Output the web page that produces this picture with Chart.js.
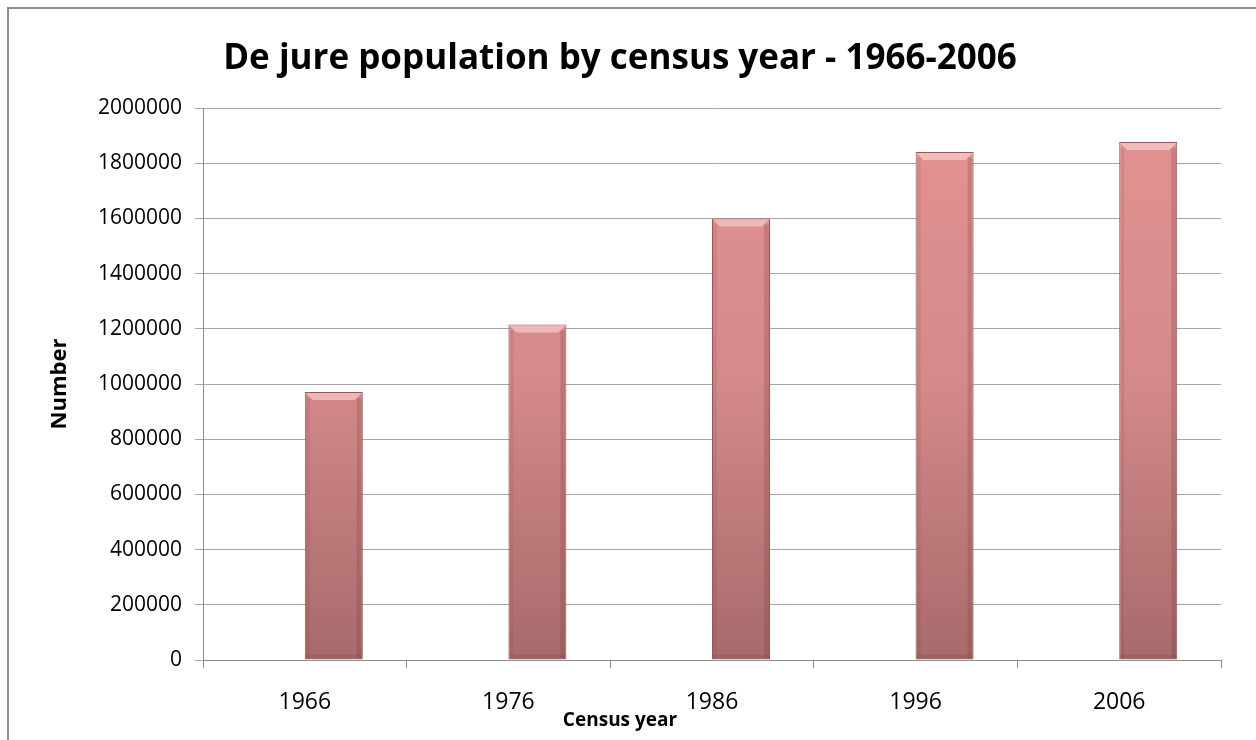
<!DOCTYPE html>
<html>
<head>
<meta charset="utf-8">
<script src="https://cdn.jsdelivr.net/npm/chart.js@4"></script>
<style>
  html, body { margin: 0; padding: 0; background: #fff; overflow: hidden; }
  #frame { position: absolute; left: 7px; top: 7px; width: 1300px; height: 800px; border: 2px solid #8c8c8c; box-sizing: border-box; }
  #wrap { position: absolute; left: 0; top: 0; width: 1256px; height: 740px; }
</style>
</head>
<body>
<div id="frame"></div>
<div id="wrap"><canvas id="grafico"></canvas></div>
<script>
const anos = ['1966', '1976', '1986', '1996', '2006'];
const populacao = [971000, 1216000, 1600000, 1841000, 1877000];
const vazio = [null, null, null, null, null];
const yTicks = [0, 200000, 400000, 600000, 800000, 1000000, 1200000, 1400000, 1600000, 1800000, 2000000];

document.addEventListener('DOMContentLoaded', () => {
    const ctx = document.getElementById('grafico').getContext('2d');

    const gradiente = (context) => {
        const area = context.chart.chartArea;
        if (!area) return '#d08080';
        const g = context.chart.ctx.createLinearGradient(0, area.top, 0, area.bottom);
        g.addColorStop(0, '#e49391');
        g.addColorStop(0.5, '#d4898a');
        g.addColorStop(1, '#a86a6b');
        return g;
    };

    // brilho no topo das barras (efeito bisel)
    const bisel = {
        id: 'bisel',
        afterDatasetsDraw(chart) {
            const meta = chart.getDatasetMeta(1);
            const c = chart.ctx;
            meta.data.forEach(bar => {
                const left = bar.x - bar.width / 2;
                const right = bar.x + bar.width / 2;
                const top = bar.y;
                const d = 8;
                c.save();
                c.fillStyle = 'rgba(255,215,215,0.6)';
                c.beginPath();
                c.moveTo(left + 1, top + 1);
                c.lineTo(right - 1, top + 1);
                c.lineTo(right - d, top + d);
                c.lineTo(left + d, top + d);
                c.closePath();
                c.fill();
                c.fillStyle = 'rgba(110,55,55,0.22)';
                c.fillRect(right - 6, top + 6, 5, bar.base - top - 7);
                c.fillStyle = 'rgba(110,55,55,0.12)';
                c.fillRect(left + 1, top + 6, 4, bar.base - top - 7);
                c.fillStyle = 'rgba(110,55,55,0.15)';
                c.fillRect(left + 1, bar.base - 5, bar.width - 2, 4);
                c.restore();
            });
        }
    };

    new Chart(ctx, {
        type: 'bar',
        data: {
            labels: anos,
            datasets: [
                { label: '', data: vazio },
                {
                    label: 'Number',
                    data: populacao,
                    backgroundColor: gradiente,
                    borderColor: '#93595a',
                    borderWidth: 1
                }
            ]
        },
        options: {
            responsive: true,
            maintainAspectRatio: false,
            animation: false,
            categoryPercentage: 0.57,
            barPercentage: 1,
            layout: { padding: { left: 19, right: 35, top: 10, bottom: 0 } },
            plugins: {
                legend: { display: false },
                tooltip: { enabled: false },
                title: {
                    display: true,
                    text: 'De jure population by census year - 1966-2006',
                    color: '#000',
                    font: { family: 'Open Sans', size: 35, weight: 'bold' },
                    padding: { top: 28, bottom: 28 }
                },
                // "Census year" fica centrado na largura total, como no original
                subtitle: {
                    display: true,
                    position: 'bottom',
                    text: 'Census year',
                    color: '#000',
                    font: { family: 'Open Sans', size: 19, weight: 'bold' },
                    padding: { top: 0, bottom: 8 }
                }
            },
            scales: {
                x: {
                    offset: true,
                    grid: { offset: true, drawOnChartArea: false, color: '#8c8c8c', tickLength: 8 },
                    border: { color: '#8c8c8c' },
                    ticks: { color: '#000', font: { family: 'Open Sans', size: 23 }, padding: 21 },
                    afterFit: (scale) => { scale.height = 49.2; }
                },
                y: {
                    min: 0,
                    max: 2000000,
                    afterBuildTicks: (scale) => { scale.ticks = yTicks.map(v => ({ value: v })); },
                    grid: { color: '#a6a6a6', tickLength: 8 },
                    border: { color: '#8c8c8c' },
                    ticks: {
                        color: '#000',
                        font: { family: 'Open Sans', size: 21 },
                        padding: 13,
                        callback: (v) => String(v)
                    },
                    title: {
                        display: true,
                        text: 'Number',
                        color: '#000',
                        font: { family: 'Open Sans', size: 22, weight: 'bold' },
                        padding: { top: 28, bottom: 0 }
                    },
                    afterFit: (scale) => { scale.width = 184; }
                }
            }
        },
        plugins: [bisel]
    });
});
</script>
</body>
</html>
